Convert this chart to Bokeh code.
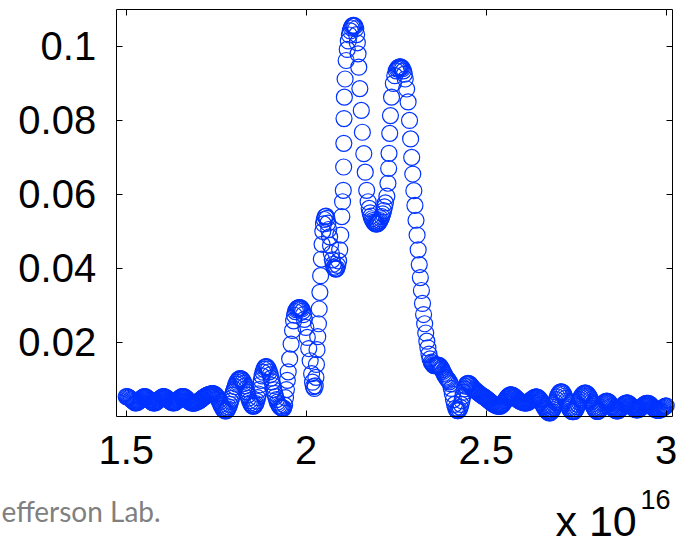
from bokeh.plotting import figure
from bokeh.models import Range1d, LinearAxis, FixedTicker
from bokeh.core.properties import value
from bokeh.embed import file_html
from bokeh.resources import INLINE

# ---- data (x in units of 1e16) ----
x_left = [1.5000, 1.5025, 1.5050, 1.5075, 1.5100, 1.5125, 1.5150, 1.5175, 1.5200, 1.5225,
          1.5250, 1.5275, 1.5300, 1.5325, 1.5350, 1.5375, 1.5400, 1.5425, 1.5450, 1.5475,
          1.5500, 1.5525, 1.5550, 1.5575, 1.5600, 1.5625, 1.5650, 1.5675, 1.5700, 1.5725,
          1.5750, 1.5775, 1.5800, 1.5825, 1.5850, 1.5875, 1.5900, 1.5925, 1.5950, 1.5975,
          1.6000, 1.6025, 1.6050, 1.6075, 1.6100, 1.6125, 1.6150, 1.6175, 1.6200, 1.6225,
          1.6250, 1.6275, 1.6300, 1.6325, 1.6350, 1.6375, 1.6400, 1.6425, 1.6450, 1.6475,
          1.6500, 1.6525, 1.6550, 1.6575, 1.6600, 1.6625, 1.6650, 1.6675, 1.6700, 1.6725,
          1.6750, 1.6775, 1.6800, 1.6825, 1.6850, 1.6875, 1.6900, 1.6925, 1.6950, 1.6975,
          1.7000, 1.7025, 1.7050, 1.7075, 1.7100, 1.7125, 1.7150, 1.7175, 1.7200, 1.7225,
          1.7250, 1.7275, 1.7300, 1.7325, 1.7350, 1.7375, 1.7400, 1.7425, 1.7450, 1.7475,
          1.7500, 1.7525, 1.7550, 1.7575, 1.7600, 1.7625, 1.7650, 1.7675, 1.7700, 1.7725,
          1.7750, 1.7775, 1.7800, 1.7825, 1.7850, 1.7875, 1.7900, 1.7925, 1.7950, 1.7975,
          1.8000, 1.8025, 1.8050, 1.8075, 1.8100, 1.8125, 1.8150, 1.8175, 1.8200, 1.8225,
          1.8250, 1.8275, 1.8300, 1.8325, 1.8350, 1.8375, 1.8400, 1.8425, 1.8450, 1.8475,
          1.8500, 1.8525, 1.8550, 1.8575, 1.8600, 1.8625, 1.8650, 1.8675, 1.8700, 1.8725,
          1.8750, 1.8775, 1.8800, 1.8825, 1.8850, 1.8875, 1.8900, 1.8925, 1.8950, 1.8975,
          1.9000, 1.9025, 1.9050, 1.9075, 1.9100, 1.9125, 1.9150, 1.9175, 1.9200, 1.9225,
          1.9250, 1.9275, 1.9300, 1.9325, 1.9350]
y_left = [0.0053, 0.0053, 0.0052, 0.0050, 0.0049, 0.0046, 0.0044, 0.0042, 0.0040, 0.0038,
          0.0036, 0.0036, 0.0037, 0.0038, 0.0040, 0.0042, 0.0045, 0.0048, 0.0050, 0.0052,
          0.0053, 0.0053, 0.0052, 0.0050, 0.0048, 0.0045, 0.0043, 0.0041, 0.0039, 0.0037,
          0.0036, 0.0036, 0.0036, 0.0037, 0.0039, 0.0041, 0.0043, 0.0046, 0.0048, 0.0050,
          0.0052, 0.0053, 0.0053, 0.0052, 0.0051, 0.0049, 0.0047, 0.0044, 0.0042, 0.0040,
          0.0038, 0.0037, 0.0036, 0.0036, 0.0037, 0.0038, 0.0040, 0.0043, 0.0045, 0.0048,
          0.0050, 0.0052, 0.0053, 0.0053, 0.0053, 0.0052, 0.0050, 0.0048, 0.0045, 0.0042,
          0.0040, 0.0038, 0.0037, 0.0036, 0.0035, 0.0035, 0.0036, 0.0037, 0.0038, 0.0039,
          0.0040, 0.0041, 0.0043, 0.0045, 0.0047, 0.0049, 0.0051, 0.0053, 0.0054, 0.0056,
          0.0057, 0.0058, 0.0059, 0.0060, 0.0060, 0.0061, 0.0061, 0.0061, 0.0060, 0.0058,
          0.0056, 0.0052, 0.0048, 0.0043, 0.0038, 0.0032, 0.0027, 0.0022, 0.0018, 0.0016,
          0.0014, 0.0014, 0.0016, 0.0020, 0.0025, 0.0032, 0.0040, 0.0048, 0.0057, 0.0065,
          0.0073, 0.0080, 0.0087, 0.0092, 0.0097, 0.0100, 0.0102, 0.0102, 0.0101, 0.0098,
          0.0094, 0.0089, 0.0082, 0.0074, 0.0066, 0.0057, 0.0049, 0.0042, 0.0036, 0.0031,
          0.0028, 0.0027, 0.0027, 0.0030, 0.0034, 0.0041, 0.0050, 0.0060, 0.0072, 0.0085,
          0.0097, 0.0109, 0.0119, 0.0127, 0.0132, 0.0134, 0.0134, 0.0131, 0.0127, 0.0120,
          0.0112, 0.0103, 0.0093, 0.0083, 0.0072, 0.0062, 0.0053, 0.0045, 0.0038, 0.0033,
          0.0028, 0.0025, 0.0023, 0.0022, 0.0022]

x_mid = [1.9375, 1.9400, 1.9425, 1.9450, 1.9475, 1.9500, 1.9540, 1.9580, 1.9620, 1.9650,
         1.9675, 1.9700, 1.9725, 1.9750, 1.9775, 1.9800, 1.9825, 1.9850, 1.9875, 1.9900,
         1.9925, 1.9950, 1.9990, 2.0030, 2.0070, 2.0110, 2.0150, 2.0175, 2.0200, 2.0225,
         2.0250, 2.0270, 2.0285, 2.0300, 2.0320, 2.0340, 2.0360, 2.0380, 2.0400, 2.0420,
         2.0440, 2.0460, 2.0480, 2.0500, 2.0525, 2.0550, 2.0575, 2.0600, 2.0625, 2.0650,
         2.0675, 2.0700, 2.0725, 2.0750, 2.0775, 2.0800, 2.0825, 2.0850, 2.0875, 2.0900,
         2.0930, 2.0960, 2.0990, 2.1010, 2.1030, 2.1040, 2.1045, 2.1050, 2.1060, 2.1080,
         2.1110, 2.1140, 2.1170, 2.1200, 2.1225, 2.1250, 2.1275, 2.1300, 2.1325, 2.1350,
         2.1375, 2.1400, 2.1420, 2.1440, 2.1460, 2.1490, 2.1530, 2.1560, 2.1600, 2.1640,
         2.1680, 2.1720, 2.1750, 2.1775, 2.1800, 2.1825, 2.1850, 2.1875, 2.1900, 2.1925,
         2.1950, 2.1975, 2.2000, 2.2025, 2.2050, 2.2075, 2.2100, 2.2125, 2.2150, 2.2175,
         2.2200, 2.2240, 2.2270, 2.2290, 2.2300, 2.2320, 2.2340, 2.2370, 2.2420, 2.2460,
         2.2500, 2.2525, 2.2550, 2.2575, 2.2600, 2.2625, 2.2650, 2.2675, 2.2700, 2.2725,
         2.2750, 2.2790, 2.2830, 2.2870, 2.2900, 2.2930, 2.2960, 2.2990, 2.3020, 2.3050,
         2.3080, 2.3110, 2.3140, 2.3170, 2.3200, 2.3230, 2.3260, 2.3290, 2.3320, 2.3350,
         2.3380, 2.3410, 2.3440, 2.3475, 2.3500, 2.3525, 2.3550, 2.3575, 2.3600, 2.3625,
         2.3650, 2.3675, 2.3700, 2.3725, 2.3750, 2.3775, 2.3800, 2.3825, 2.3850, 2.3875,
         2.3900, 2.3925, 2.3950, 2.3975, 2.4000, 2.4030, 2.4060, 2.4090, 2.4120, 2.4150,
         2.4175, 2.4200, 2.4225, 2.4250, 2.4275, 2.4300, 2.4325, 2.4350, 2.4375, 2.4400,
         2.4425, 2.4450, 2.4475, 2.4500, 2.4525, 2.4550, 2.4575, 2.4600]
y_mid = [0.0022, 0.0030, 0.0050, 0.0072, 0.0097, 0.0120, 0.0155, 0.0195, 0.0232, 0.0258,
         0.0273, 0.0283, 0.0288, 0.0291, 0.0293, 0.0294, 0.0294, 0.0293, 0.0290, 0.0284,
         0.0275, 0.0262, 0.0240, 0.0213, 0.0183, 0.0150, 0.0115, 0.0092, 0.0080, 0.0075,
         0.0082, 0.0105, 0.0140, 0.0180, 0.0215, 0.0250, 0.0290, 0.0335, 0.0380, 0.0425,
         0.0465, 0.0500, 0.0520, 0.0532, 0.0540, 0.0541, 0.0535, 0.0522, 0.0505, 0.0485,
         0.0462, 0.0440, 0.0423, 0.0411, 0.0403, 0.0399, 0.0398, 0.0400, 0.0408, 0.0420,
         0.0450, 0.0490, 0.0540, 0.0580, 0.0611, 0.0674, 0.0738, 0.0805, 0.0863, 0.0912,
         0.0962, 0.0992, 0.1015, 0.1031, 0.1042, 0.1050, 0.1055, 0.1057, 0.1057, 0.1055,
         0.1048, 0.1032, 0.1010, 0.0980, 0.0944, 0.0886, 0.0827, 0.0768, 0.0710, 0.0660,
         0.0611, 0.0580, 0.0562, 0.0550, 0.0541, 0.0534, 0.0529, 0.0525, 0.0522, 0.0520,
         0.0520, 0.0520, 0.0522, 0.0525, 0.0529, 0.0534, 0.0540, 0.0547, 0.0556, 0.0566,
         0.0577, 0.0595, 0.0630, 0.0670, 0.0711, 0.0765, 0.0813, 0.0863, 0.0900, 0.0921,
         0.0934, 0.0939, 0.0942, 0.0944, 0.0945, 0.0945, 0.0943, 0.0940, 0.0934, 0.0925,
         0.0912, 0.0885, 0.0850, 0.0800, 0.0750, 0.0700, 0.0655, 0.0610, 0.0570, 0.0530,
         0.0490, 0.0450, 0.0410, 0.0375, 0.0340, 0.0305, 0.0275, 0.0250, 0.0225, 0.0203,
         0.0185, 0.0168, 0.0155, 0.0146, 0.0142, 0.0139, 0.0137, 0.0137, 0.0137, 0.0138,
         0.0138, 0.0138, 0.0137, 0.0134, 0.0130, 0.0126, 0.0121, 0.0116, 0.0111, 0.0106,
         0.0103, 0.0100, 0.0097, 0.0093, 0.0088, 0.0075, 0.0060, 0.0045, 0.0032, 0.0022,
         0.0017, 0.0015, 0.0015, 0.0018, 0.0024, 0.0032, 0.0042, 0.0054, 0.0065, 0.0074,
         0.0081, 0.0086, 0.0088, 0.0089, 0.0088, 0.0086, 0.0083, 0.0080]

x_right = [2.4625, 2.4650, 2.4675, 2.4700, 2.4725, 2.4750, 2.4775, 2.4800, 2.4825, 2.4850,
           2.4875, 2.4900, 2.4925, 2.4950, 2.4975, 2.5000, 2.5025, 2.5050, 2.5075, 2.5100,
           2.5125, 2.5150, 2.5175, 2.5200, 2.5225, 2.5250, 2.5275, 2.5300, 2.5325, 2.5350,
           2.5375, 2.5400, 2.5425, 2.5450, 2.5475, 2.5500, 2.5525, 2.5550, 2.5575, 2.5600,
           2.5625, 2.5650, 2.5675, 2.5700, 2.5725, 2.5750, 2.5775, 2.5800, 2.5825, 2.5850,
           2.5875, 2.5900, 2.5925, 2.5950, 2.5975, 2.6000, 2.6025, 2.6050, 2.6075, 2.6100,
           2.6125, 2.6150, 2.6175, 2.6200, 2.6225, 2.6250, 2.6275, 2.6300, 2.6325, 2.6350,
           2.6375, 2.6400, 2.6425, 2.6450, 2.6475, 2.6500, 2.6525, 2.6550, 2.6575, 2.6600,
           2.6625, 2.6650, 2.6675, 2.6700, 2.6725, 2.6750, 2.6775, 2.6800, 2.6825, 2.6850,
           2.6875, 2.6900, 2.6925, 2.6950, 2.6975, 2.7000, 2.7025, 2.7050, 2.7075, 2.7100,
           2.7125, 2.7150, 2.7175, 2.7200, 2.7225, 2.7250, 2.7275, 2.7300, 2.7325, 2.7350,
           2.7375, 2.7400, 2.7425, 2.7450, 2.7475, 2.7500, 2.7525, 2.7550, 2.7575, 2.7600,
           2.7625, 2.7650, 2.7675, 2.7700, 2.7725, 2.7750, 2.7775, 2.7800, 2.7825, 2.7850,
           2.7875, 2.7900, 2.7925, 2.7950, 2.7975, 2.8000, 2.8025, 2.8050, 2.8075, 2.8100,
           2.8125, 2.8150, 2.8175, 2.8200, 2.8225, 2.8250, 2.8275, 2.8300, 2.8325, 2.8350,
           2.8375, 2.8400, 2.8425, 2.8450, 2.8475, 2.8500, 2.8525, 2.8550, 2.8575, 2.8600,
           2.8625, 2.8650, 2.8675, 2.8700, 2.8725, 2.8750, 2.8775, 2.8800, 2.8825, 2.8850,
           2.8875, 2.8900, 2.8925, 2.8950, 2.8975, 2.9000, 2.9025, 2.9050, 2.9075, 2.9100,
           2.9125, 2.9150, 2.9175, 2.9200, 2.9225, 2.9250, 2.9275, 2.9300, 2.9325, 2.9350,
           2.9375, 2.9400, 2.9425, 2.9450, 2.9475, 2.9500, 2.9525, 2.9550, 2.9575, 2.9600,
           2.9625, 2.9650, 2.9675, 2.9700, 2.9725, 2.9750, 2.9775, 2.9800, 2.9825, 2.9850,
           2.9875, 2.9900, 2.9925, 2.9950, 2.9975, 3.0000]
y_right = [0.0077, 0.0074, 0.0072, 0.0070, 0.0068, 0.0066, 0.0064, 0.0062, 0.0060, 0.0058,
           0.0056, 0.0055, 0.0053, 0.0052, 0.0050, 0.0048, 0.0046, 0.0044, 0.0042, 0.0040,
           0.0038, 0.0036, 0.0034, 0.0033, 0.0031, 0.0030, 0.0029, 0.0028, 0.0027, 0.0027,
           0.0027, 0.0027, 0.0029, 0.0031, 0.0034, 0.0038, 0.0042, 0.0046, 0.0050, 0.0053,
           0.0055, 0.0057, 0.0058, 0.0058, 0.0057, 0.0056, 0.0054, 0.0052, 0.0050, 0.0047,
           0.0045, 0.0043, 0.0041, 0.0040, 0.0039, 0.0038, 0.0037, 0.0036, 0.0036, 0.0036,
           0.0036, 0.0037, 0.0038, 0.0040, 0.0042, 0.0044, 0.0046, 0.0048, 0.0050, 0.0051,
           0.0052, 0.0052, 0.0051, 0.0050, 0.0047, 0.0044, 0.0040, 0.0035, 0.0030, 0.0026,
           0.0022, 0.0018, 0.0015, 0.0012, 0.0010, 0.0009, 0.0009, 0.0011, 0.0014, 0.0018,
           0.0024, 0.0030, 0.0037, 0.0045, 0.0052, 0.0058, 0.0062, 0.0065, 0.0066, 0.0066,
           0.0064, 0.0060, 0.0054, 0.0048, 0.0041, 0.0035, 0.0029, 0.0023, 0.0019, 0.0015,
           0.0013, 0.0012, 0.0012, 0.0013, 0.0016, 0.0020, 0.0026, 0.0032, 0.0039, 0.0045,
           0.0050, 0.0055, 0.0058, 0.0061, 0.0062, 0.0063, 0.0062, 0.0061, 0.0058, 0.0055,
           0.0050, 0.0045, 0.0039, 0.0033, 0.0027, 0.0022, 0.0018, 0.0015, 0.0013, 0.0013,
           0.0014, 0.0016, 0.0020, 0.0024, 0.0029, 0.0033, 0.0036, 0.0039, 0.0040, 0.0041,
           0.0040, 0.0039, 0.0036, 0.0033, 0.0029, 0.0026, 0.0022, 0.0019, 0.0017, 0.0015,
           0.0014, 0.0014, 0.0015, 0.0017, 0.0020, 0.0023, 0.0026, 0.0029, 0.0032, 0.0034,
           0.0035, 0.0036, 0.0036, 0.0035, 0.0033, 0.0031, 0.0028, 0.0026, 0.0023, 0.0021,
           0.0019, 0.0018, 0.0017, 0.0017, 0.0018, 0.0019, 0.0021, 0.0023, 0.0026, 0.0028,
           0.0030, 0.0032, 0.0034, 0.0035, 0.0035, 0.0035, 0.0034, 0.0032, 0.0030, 0.0027,
           0.0024, 0.0022, 0.0020, 0.0018, 0.0017, 0.0016, 0.0016, 0.0016, 0.0017, 0.0018,
           0.0020, 0.0022, 0.0024, 0.0026, 0.0027, 0.0028]

# axis limits (the MATLAB-style box) and ticks
x_lim = (1.4722, 3.0183)
y_lim = (0.0, 0.11)
x_ticks = [1.5, 2.0, 2.5, 3.0]
x_tick_labels = ["1.5", "2", "2.5", "3"]
y_ticks = [0.02, 0.04, 0.06, 0.08, 0.1]
y_tick_labels = ["0.02", "0.04", "0.06", "0.08", "0.1"]

# texts below the box
multiplier_base = "x 10"
multiplier_exp = "16"
credit = "efferson Lab."

xs = x_left + x_mid + x_right
ys = y_left + y_mid + y_right

# ---- layout: where the box sits on the 681x546 canvas ----
W, H = 681, 546
BOX_L, BOX_R, BOX_T, BOX_B = 115.7, 672.3, 9.0, 415.7
kx = (BOX_R - BOX_L) / (x_lim[1] - x_lim[0])
ky = (BOX_B - BOX_T) / (y_lim[1] - y_lim[0])
x_start = x_lim[0] - BOX_L / kx
x_end = x_start + W / kx
y_end = y_lim[1] + BOX_T / ky
y_start = y_end - H / ky


def cx(px):
    return x_start + px / kx


def cy(py):
    return y_end - py / ky


BLUE = "#0033ff"
FONT = "Liberation Sans"

p = figure(width=W, height=H,
           x_range=Range1d(x_start, x_end), y_range=Range1d(y_start, y_end),
           output_backend="svg", toolbar_location=None,
           x_axis_location=None, y_axis_location=None, min_border=0)
p.grid.visible = False
p.outline_line_color = None
p.background_fill_color = "white"
p.border_fill_color = "white"


def box_axis(ticks, loc, bounds, labels=None):
    ax = LinearAxis(ticker=FixedTicker(ticks=ticks), fixed_location=loc, bounds=bounds)
    ax.major_tick_in = 6
    ax.major_tick_out = 0
    ax.minor_tick_in = 0
    ax.minor_tick_out = 0
    ax.axis_line_color = "black"
    ax.axis_line_width = 1
    ax.major_tick_line_color = "black"
    ax.major_tick_line_width = 1
    if labels is None:
        ax.major_label_text_color = None
        ax.major_label_text_font_size = "1px"
        ax.major_label_standoff = 0
    else:
        ax.major_label_overrides = dict(zip(ticks, labels))
        ax.major_label_text_font = FONT
        ax.major_label_text_font_size = "40px"
        ax.major_label_text_color = "black"
        ax.major_label_standoff = 20
    return ax


p.add_layout(box_axis(x_ticks, y_lim[0], x_lim, x_tick_labels), "below")
p.add_layout(box_axis(y_ticks, x_lim[0], y_lim, y_tick_labels), "left")
p.add_layout(box_axis(x_ticks, y_lim[1], x_lim), "above")
p.add_layout(box_axis(y_ticks, x_lim[1], y_lim), "right")

p.scatter(xs, ys, marker="circle", size=16, fill_color=None,
          line_color=BLUE, line_width=1.2)

p.text(x=[cx(555)], y=[cy(520)], text=[multiplier_base], text_font=value(FONT),
       text_font_size=value("43px"), text_color="black",
       text_baseline="alphabetic", text_align="left")
p.text(x=[cx(640)], y=[cy(499)], text=[multiplier_exp], text_font=value(FONT),
       text_font_size=value("27px"), text_color="black",
       text_baseline="alphabetic", text_align="left")
p.text(x=[cx(1)], y=[cy(510)], text=[credit], text_font=value("Lato"),
       text_font_size=value("28px"), text_color="#808080",
       text_baseline="alphabetic", text_align="left")

open("out.html", "w").write(file_html(p, INLINE))
